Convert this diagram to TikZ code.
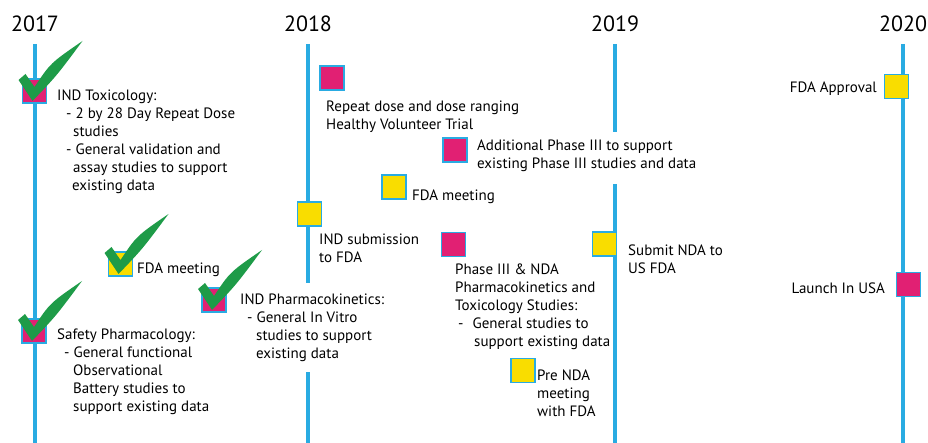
\documentclass[tikz,border=0pt]{standalone}
\usepackage{fontspec}
\setmainfont{PT Sans}
\usetikzlibrary{positioning}
\definecolor{lineblue}{RGB}{41,171,226}
\definecolor{magentabox}{RGB}{225,32,115}
\definecolor{yellowbox}{RGB}{249,221,0}
\definecolor{tickgreen}{RGB}{30,155,72}
\tikzset{greentick/.pic={
  \fill[tickgreen] (-16,-11) -- (-2,10) .. controls (22,-15) .. (48,-50)
    .. controls (16,-28) .. (0,-4) -- (-9,-17) -- cycle;}}
\begin{document}
\begin{tikzpicture}[x=1pt,y=-1pt,
  box/.style={draw=lineblue, line width=1.5pt, minimum size=24pt, inner sep=0pt},
  red box/.style={box, fill=magentabox},
  yellow box/.style={box, fill=yellowbox},
  yearline/.style={lineblue, line width=4pt},
  year/.style={font=\fontsize{22}{26}\selectfont, inner sep=0pt},
  label/.style={anchor=north west, align=left, inner sep=0pt},
  rlabel/.style={anchor=north east, align=right, inner sep=0pt}]
  \tikzstyle{every node}=[font=\fontsize{15}{18}\selectfont]
  \useasboundingbox (0,0) rectangle (928,443);

  % timeline coordinates
  \coordinate (a17) at (35,44);  \coordinate (b17) at (35,443);
  \coordinate (a18) at (308,44); \coordinate (c18) at (308,283);
  \coordinate (d18) at (308,372); \coordinate (b18) at (308,443);
  \coordinate (a19) at (615,44); \coordinate (c19) at (615,132);
  \coordinate (d19) at (615,184); \coordinate (b19) at (615,443);
  \coordinate (a20) at (903,44); \coordinate (b20) at (903,443);

  \node[year] (y17) [above=12pt of a17] {2017};
  \node[year] (y18) [above=12pt of a18] {2018};
  \node[year] (y19) [above=12pt of a19] {2019};
  \node[year] (y20) [above=12pt of a20] {2020};

  \draw[yearline] (a17) -- (b17);
  \draw[yearline] (a18) -- (c18) (d18) -- (b18);
  \draw[yearline] (a19) -- (c19) (d19) -- (b19);
  \draw[yearline] (a20) -- (b20);

  % milestones
  \node[red box] (1) at (34.5,91) {};
  \node[yellow box] (2) at (309.5,214) {};
  \node[red box] (3) at (332,78) {};
  \node[red box] (4) at (455,150) {};
  \node[yellow box] (5) at (394,187) {};
  \node[red box] (6) at (453.5,244.5) {};
  \node[yellow box] (7) at (604.5,244) {};
  \node[yellow box] (8) at (523,370.5) {};
  \node[yellow box] (9) at (896.5,86.5) {};
  \node[red box] (10) at (908.5,284.5) {};
  \node[yellow box] (11) at (120.5,264) {};
  \node[red box] (12) at (34,331) {};
  \node[red box] (13) at (214,300) {};

  \node[label] (l1) at (57,90) {IND Toxicology:\\
    \hspace*{9pt}- 2 by 28 Day Repeat Dose\\ \hspace*{16pt}studies\\
    \hspace*{9pt}- General validation and\\ \hspace*{16pt}assay studies to support\\
    \hspace*{15pt}existing data};
  \node[label] (l2) at (319,234) {IND submission\\to FDA};
  \node[label] (l3) at (326,101) {Repeat dose and dose ranging\\Healthy Volunteer Trial};
  \node[label] (l4) at (477,140) {Additional Phase III to support\\existing Phase III studies and data};
  \node[label] (l5) at (412,190) {FDA meeting};
  \node[label] (l6) at (455,264) {Phase III \& NDA\\Pharmacokinetics and\\Toxicology Studies:\\
    \hspace*{3pt}-\hspace{9pt}General studies to\\ \hspace*{19pt}support existing data};
  \node[label] (l7) at (628,245) {Submit NDA to\\US FDA};
  \node[label] (l8) at (537,370) {Pre NDA\\meeting\\with FDA};
  \node[rlabel] (l9) at (877,82) {FDA Approval};
  \node[rlabel] (l10) at (885,283) {Launch In USA};
  \node[label] (l11) at (137,263) {FDA meeting};
  \node[label] (l12) at (57,329) {Safety Pharmacology:\\
    \hspace*{7pt}- General functional\\ \hspace*{16pt}Observational\\
    \hspace*{16pt}Battery studies to\\ \hspace*{16pt}support existing data};
  \node[label] (l13) at (240,294) {IND Pharmacokinetics:\\
    \hspace*{7pt}- General In Vitro\\ \hspace*{16pt}studies to support\\
    \hspace*{16pt}existing data};

  % done
  \pic at (1) {greentick};
  \pic at (11) {greentick};
  \pic at (12) {greentick};
  \pic at (13) {greentick};
\end{tikzpicture}
\end{document}
